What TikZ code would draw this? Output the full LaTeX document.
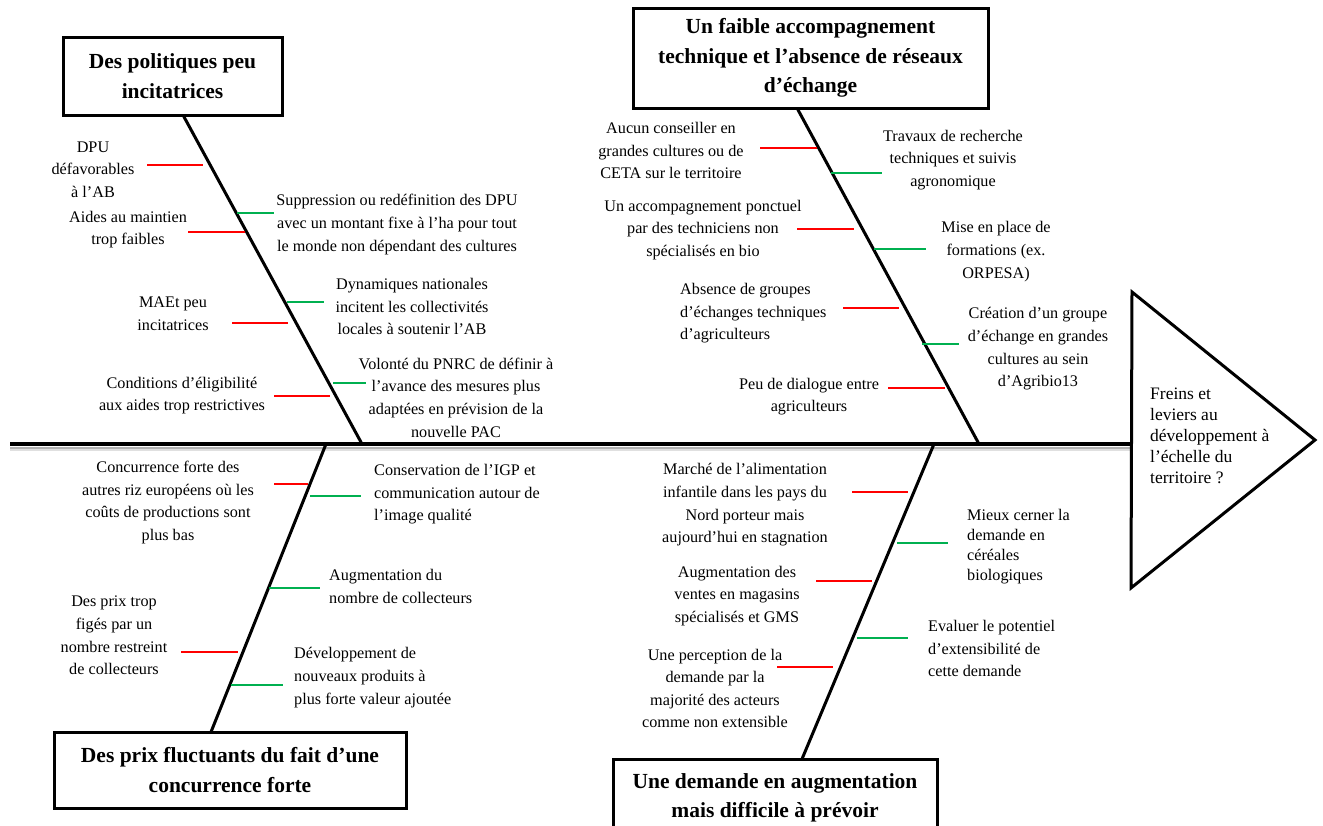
\documentclass[tikz,border=0pt]{standalone}
\usepackage{fontspec}
\setmainfont{Liberation Serif}
\definecolor{frein}{RGB}{255,0,0}
\definecolor{levier}{RGB}{0,176,80}
\tikzset{
	cause/.style={draw,line width=3pt,inner sep=0pt,align=center,font=\bfseries\fontsize{21.5}{29.5}\selectfont},
	lbl/.style={inner sep=0pt,align=center,font=\fontsize{16.2}{22.6}\selectfont},
	lblg/.style={lbl,align=left,anchor=west},
	arete/.style={line width=3pt},
	rouge/.style={frein,line width=1.8pt},
	vert/.style={levier,line width=1.8pt}
}

\begin{document}
\begin{tikzpicture}[x=1pt,y=-1pt]
	\useasboundingbox (0,0) rectangle (1323,825);
	
	\coordinate (queue) at (10,444);
	\coordinate (tete) at (1132,444);
	\draw[black!12,line width=2pt](10,450)--(1132,450);
	\draw[black!30,line width=2pt](10,448)--(1132,448);
	\draw[line width=4.5pt](queue)--(tete);
	\draw[line width=3pt,line join=miter](1132,292)--(1315,440)--(1131,588)--cycle;
	\node[lblg,font=\fontsize{17.5}{21}\selectfont] at (1150,436)(effet){Freins et\\leviers au\\développement à\\l’échelle du\\territoire ?};
	
	\node[cause,minimum width=219pt,minimum height=78pt] at (172.5,76)(pol){Des politiques peu\\incitatrices};
	\node[cause,minimum width=355pt,minimum height=100pt] at (810.5,58)(acc){Un faible accompagnement\\technique et l’absence de réseaux\\d’échange};
	\node[cause,minimum width=352pt,minimum height=76pt] at (230,770)(prix){Des prix fluctuants du fait d’une\\concurrence forte};
	\node[cause,minimum width=324pt,minimum height=78pt] at (775,798)(dem){Une demande en augmentation\\mais difficile à prévoir};
	
	\coordinate (pol-r) at (183,115);
	\coordinate (acc-r) at (797,108);
	\coordinate (prix-r) at (211,732);
	\coordinate (dem-r) at (802,759);
	\coordinate (s1) at (362,444);
	\coordinate (s2) at (979,444);
	\coordinate (s3) at (326,444);
	\coordinate (s4) at (934,444);
	\draw[arete](pol-r)--(s1) (acc-r)--(s2) (prix-r)--(s3) (dem-r)--(s4);
	
	\foreach \a/\b/\y in {147/203/165,188/245/232,232/288/323,274/330/396,760/817/148,797/854/229,843/899/308,888/945/388,274/308/484,181/238/652,852/908/492,816/872/581,777/833/667}
		\draw[rouge](\a,\y)--(\b,\y);
	\foreach \a/\b/\y in {237/274/213,287/324/302,333/366/383,831/882/173,874/926/249,922/959/344,310/361/496,269/320/588,231/283/685,897/948/543,857/908/638}
		\draw[vert](\a,\y)--(\b,\y);
	
	\node[lbl] at (93,169.5)(dpu){DPU\\défavorables\\à l’AB};
	\node[lbl] at (397,224.5)(suppr){Suppression ou redéfinition des DPU\\avec un montant fixe à l’ha pour tout\\le monde non dépendant des cultures};
	\node[lbl] at (128,229.5)(aides){Aides au maintien\\trop faibles};
	\node[lbl] at (412,306.5)(dyn){Dynamiques nationales\\incitent les collectivités\\locales à soutenir l’AB};
	\node[lbl] at (173,314)(maet){MAEt peu\\incitatrices};
	\node[lbl] at (456,397.5)(pnrc){Volonté du PNRC de définir à\\l’avance des mesures plus\\adaptées en prévision de la\\nouvelle PAC};
	\node[lbl] at (182,395.5)(cond){Conditions d’éligibilité\\aux aides trop restrictives};
	
	\node[lbl] at (671,150.5)(ceta){Aucun conseiller en\\grandes cultures ou de\\CETA sur le territoire};
	\node[lbl] at (953,160)(trav){Travaux de recherche\\techniques et suivis\\agronomique};
	\node[lbl] at (703,230)(ponct){Un accompagnement ponctuel\\par des techniciens non\\spécialisés en bio};
	\node[lbl] at (996,251.5)(form){Mise en place de\\formations (ex.\\ORPESA)};
	\node[lblg] at (680,313.5)(grp){Absence de groupes\\d’échanges techniques\\d’agriculteurs};
	\node[lbl] at (1038,349)(agri){Création d’un groupe\\d’échange en grandes\\cultures au sein\\d’Agribio13};
	\node[lbl] at (809,396.5)(dial){Peu de dialogue entre\\agriculteurs};
	
	\node[lbl] at (168,502.5)(conc){Concurrence forte des\\autres riz européens où les\\coûts de productions sont\\plus bas};
	\node[lblg] at (374,494.5)(igp){Conservation de l’IGP et\\communication autour de\\l’image qualité};
	\node[lblg] at (329,586.5)(coll){Augmentation du\\nombre de collecteurs};
	\node[lbl] at (114,635.5)(figes){Des prix trop\\figés par un\\nombre restreint\\de collecteurs};
	\node[lblg] at (294,677.5)(prod){Développement de\\nouveaux produits à\\plus forte valeur ajoutée};
	
	\node[lbl] at (745,505)(inf){Marché de l’alimentation\\infantile dans les pays du\\Nord porteur mais\\aujourd’hui en stagnation};
	\node[lblg,font=\fontsize{16.2}{20}\selectfont] at (967,547)(cern){Mieux cerner la\\demande en\\céréales\\biologiques};
	\node[lbl] at (737,596)(vent){Augmentation des\\ventes en magasins\\spécialisés et GMS};
	\node[lblg] at (928,648.5)(eval){Evaluer le potentiel\\d’extensibilité de\\cette demande};
	\node[lbl] at (715,688.5)(perc){Une perception de la\\demande par la\\majorité des acteurs\\comme non extensible};
	
\end{tikzpicture}
\end{document}
